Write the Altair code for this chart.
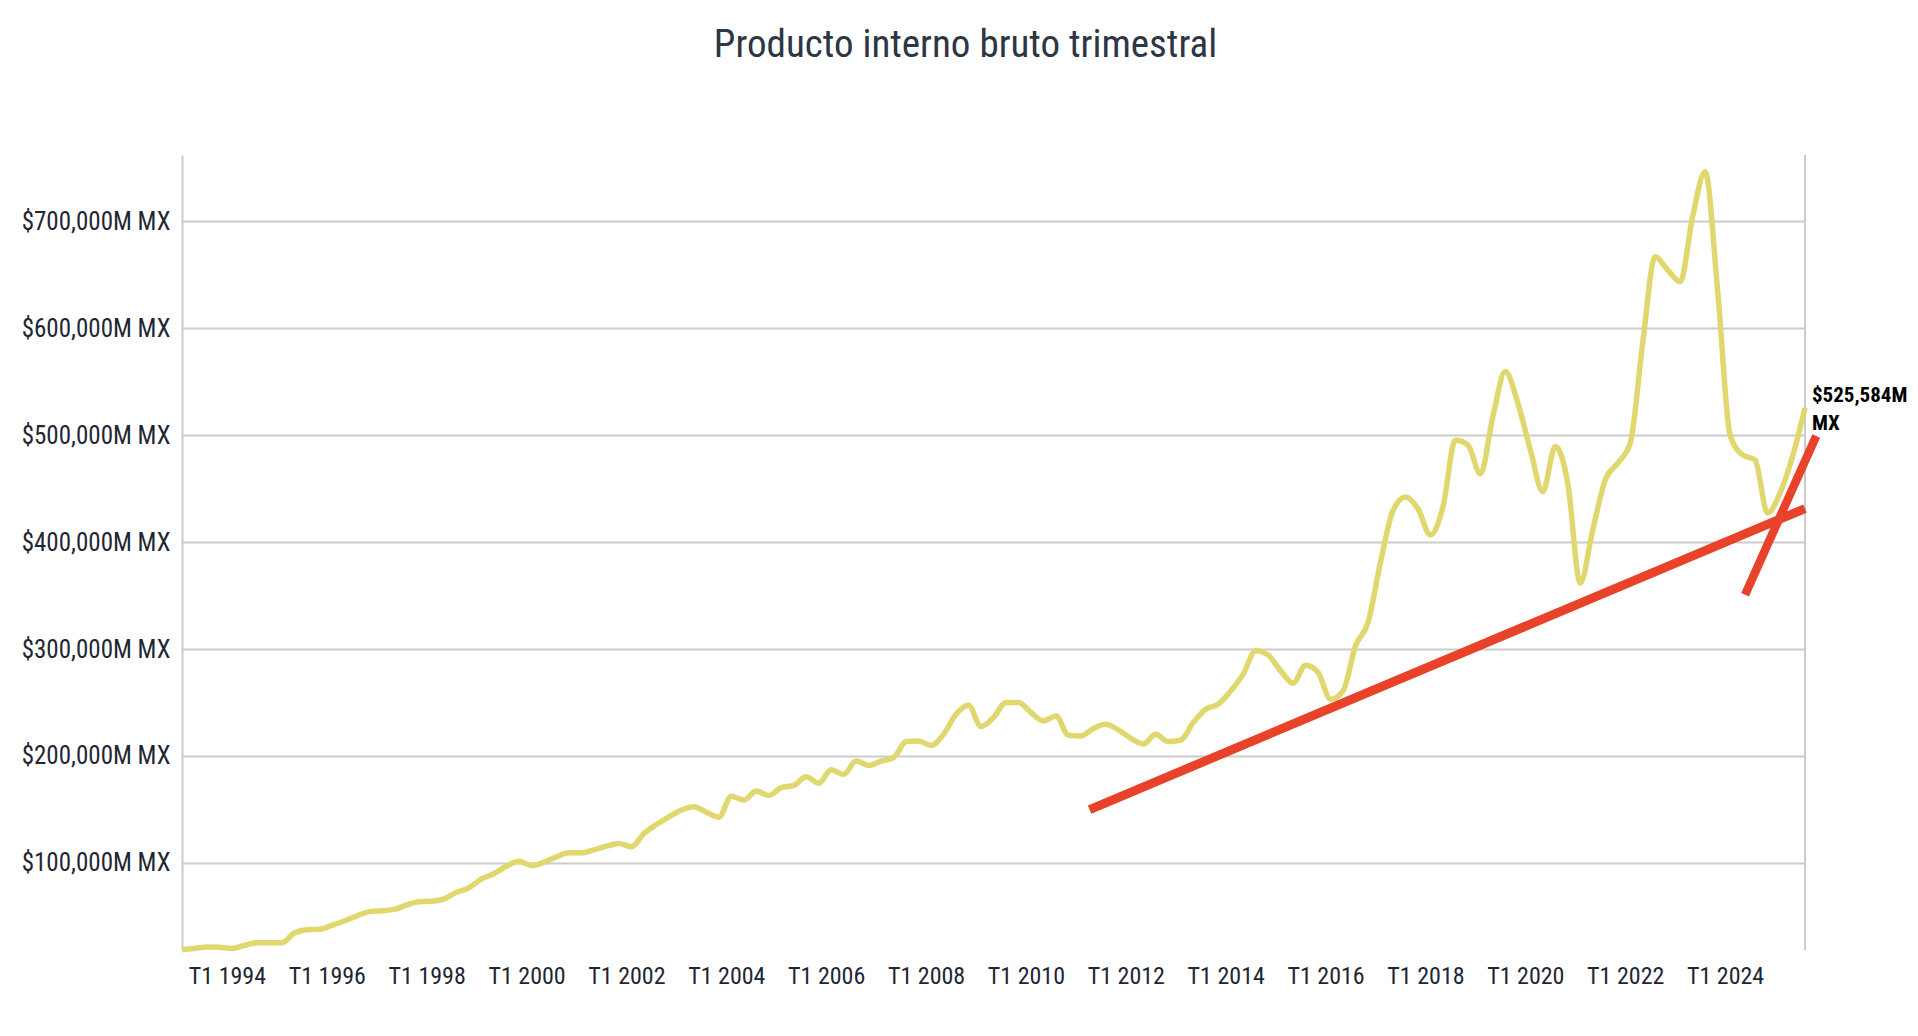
import json
import altair as alt
import pandas as pd

# ---- data (millones de pesos) ----
pib = [
    18700, 20000, 21300, 21000, 20000, 22800, 25300, 25300, 25300, 34400,
    37500, 37800, 41500, 45600, 50300, 54400, 55300, 56500, 60600, 63700,
    64000, 66300, 72500, 76900, 85000, 90000, 97000, 101500, 97500, 100600,
    105600, 109400, 109400, 112200, 115600, 118100, 115000, 127500, 135900, 143100,
    149300, 152500, 147400, 142700, 162400, 158700, 167100, 163100, 170300, 172400,
    180600, 174500, 187000, 182800, 195200, 191200, 195200, 198400, 213400, 214000,
    209900, 220200, 239000, 247400, 227500, 235900, 250000, 250000, 240600, 232700,
    237400, 219300, 218700, 225600, 229600, 224300, 216500, 211200, 220200, 213400,
    214900, 231200, 243700, 248400, 260800, 276500, 298300, 294300, 279600, 268000,
    284900, 278100, 253000, 260800, 303000, 324900, 381200, 429500, 442100, 431100,
    406700, 433000, 495300, 490900, 463800, 517400, 559500, 529900, 486300, 447300,
    489300, 455100, 361700, 411500, 458200, 473800, 492500, 586000, 666900, 654500,
    643600, 704300, 746400, 635800, 500300, 481600, 476900, 427100, 445800, 480000,
    525584,
]
periodos = [f"T{q} {y}" for y in range(1993, 2026) for q in range(1, 5)][: len(pib)]

tick_labels = ["T1 1994", "T1 1996", "T1 1998", "T1 2000", "T1 2002", "T1 2004",
               "T1 2006", "T1 2008", "T1 2010", "T1 2012", "T1 2014", "T1 2016",
               "T1 2018", "T1 2020", "T1 2022", "T1 2024"]
tick_idx = [periodos.index(t) for t in tick_labels]
y_ticks = [100000, 200000, 300000, 400000, 500000, 600000, 700000]

# trend lines (x in quarter index, y in millions)
larga_x = [72.7, 130.0]
larga_y = [149800, 431300]
corta_x = [125.2, 130.9]
corta_y = [350700, 499300]

FONT = "Roboto Condensed, Roboto, sans-serif"
YELLOW = "#E0D86E"
RED = "#E8432A"
GRID = "#cccccc"
TEXT = "#1f2633"

df = pd.DataFrame({"idx": list(range(len(pib))), "periodo": periodos, "pib": pib})
last = df.tail(1).copy()
last["etiqueta"] = last["pib"].map(lambda v: f"${v:,}M\nMX")
df_larga = pd.DataFrame({"idx": larga_x, "pib": larga_y})
df_corta = pd.DataFrame({"idx": corta_x, "pib": corta_y})

x_label_expr = f"{json.dumps(tick_labels)}[indexof({json.dumps(tick_idx)}, datum.value)]"

x_enc = alt.X(
    "idx:Q",
    scale=alt.Scale(domain=[0, len(pib) - 1], nice=False, zero=False),
    axis=alt.Axis(
        values=tick_idx, labelExpr=x_label_expr, grid=False, domain=False,
        ticks=False, tickSize=0, labelPadding=14, labelFontSize=24, labelFont=FONT,
        labelColor=TEXT, labelOffset=-5, labelAngle=0, title=None, labelFlush=False,
        labelOverlap=False,
    ),
)
y_enc = alt.Y(
    "pib:Q",
    scale=alt.Scale(domain=[18500, 762000], nice=False, zero=False),
    axis=alt.Axis(
        values=y_ticks, labelExpr="'$' + format(datum.value, ',') + 'M MX'",
        grid=True, gridColor=GRID, gridWidth=2, domain=True, domainColor=GRID,
        domainWidth=2, ticks=False, tickSize=0, labelPadding=12, labelFontSize=25,
        labelFont=FONT, labelColor=TEXT, title=None,
    ),
)

linea = alt.Chart(df).mark_line(
    color=YELLOW, strokeWidth=5.5, interpolate="monotone"
).encode(x=x_enc, y=y_enc)

borde = alt.Chart(last).mark_rule(color=GRID, strokeWidth=2).encode(x="idx:Q")

t_larga = alt.Chart(df_larga).mark_line(
    color=RED, strokeWidth=9, clip=False, strokeCap="butt"
).encode(x="idx:Q", y="pib:Q")

t_corta = alt.Chart(df_corta).mark_line(
    color=RED, strokeWidth=8.5, clip=False, strokeCap="butt"
).encode(x="idx:Q", y="pib:Q")

etiqueta = alt.Chart(last).mark_text(
    align="left", baseline="alphabetic", dx=7, dy=-6, fontSize=21,
    fontWeight="bold", lineBreak="\n", lineHeight=28, color="black",
    font=FONT, clip=False,
).encode(x="idx:Q", y="pib:Q", text="etiqueta:N")

chart = (
    alt.layer(borde, linea, t_larga, t_corta, etiqueta)
    .properties(
        width=1623,
        height=795,
        autosize=alt.AutoSizeParams(type="none"),
        padding={"left": 174, "top": 147, "right": 104, "bottom": 70},
        title=alt.TitleParams(
            "Producto interno bruto trimestral", fontSize=39, font=FONT,
            fontWeight="normal", color="#2d3644", anchor="middle", dx=-28,
            offset=89,
        ),
    )
    .configure_view(stroke=None)
)

chart.save("out.html", embed_options={"renderer": "svg", "actions": False})
